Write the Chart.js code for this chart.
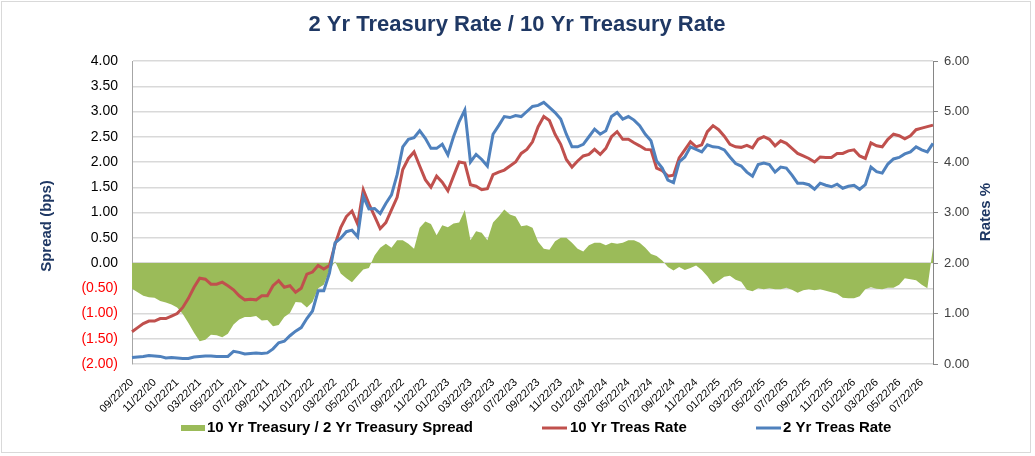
<!DOCTYPE html>
<html><head><meta charset="utf-8">
<script src="https://cdn.jsdelivr.net/npm/chart.js@4.4.1/dist/chart.umd.min.js"></script>
<style>html,body{margin:0;padding:0;background:#fff;}</style>
</head><body>
<canvas id="c" width="1035" height="456"></canvas>
<script>
const chartTitle = '2 Yr Treasury Rate / 10 Yr Treasury Rate';
const leftAxisTitle = 'Spread (bps)';
const rightAxisTitle = 'Rates %';
const seriesNames = ['10 Yr Treasury / 2 Yr Treasury Spread', '10 Yr Treas Rate', '2 Yr Treas Rate'];

const dates = [
'09/22/20','10/07/20','10/22/20','11/07/20','11/22/20','12/07/20','12/22/20','01/07/21',
'01/22/21','02/07/21','02/22/21','03/07/21','03/22/21','04/07/21','04/22/21','05/07/21',
'05/22/21','06/07/21','06/22/21','07/07/21','07/22/21','08/07/21','08/22/21','09/07/21',
'09/22/21','10/07/21','10/22/21','11/07/21','11/22/21','12/07/21','12/22/21','01/07/22',
'01/22/22','02/07/22','02/22/22','03/07/22','03/22/22','04/07/22','04/22/22','05/07/22',
'05/22/22','06/07/22','06/22/22','07/07/22','07/22/22','08/07/22','08/22/22','09/07/22',
'09/22/22','10/07/22','10/22/22','11/07/22','11/22/22','12/07/22','12/22/22','01/07/23',
'01/22/23','02/07/23','02/22/23','03/07/23','03/22/23','04/07/23','04/22/23','05/07/23',
'05/22/23','06/07/23','06/22/23','07/07/23','07/22/23','08/07/23','08/22/23','09/07/23',
'09/22/23','10/07/23','10/22/23','11/07/23','11/22/23','12/07/23','12/22/23','01/07/24',
'01/22/24','02/07/24','02/22/24','03/07/24','03/22/24','04/07/24','04/22/24','05/07/24',
'05/22/24','06/07/24','06/22/24','07/07/24','07/22/24','08/07/24','08/22/24','09/07/24',
'09/22/24','10/07/24','10/22/24','11/07/24','11/22/24','12/07/24','12/22/24','01/07/25',
'01/22/25','02/07/25','02/22/25','03/07/25','03/22/25','04/07/25','04/22/25','05/07/25',
'05/22/25','06/07/25','06/22/25','07/07/25','07/22/25','08/07/25','08/22/25','09/07/25',
'09/22/25','10/07/25','10/22/25','11/07/25','11/22/25','12/07/25','12/22/25','01/07/26',
'01/22/26','02/07/26','02/22/26','03/07/26','03/22/26','04/07/26','04/22/26','05/07/26',
'05/22/26','06/07/26','06/22/26','07/07/26','07/22/26','08/07/26','08/22/26'
];

const tickLabels = [
'09/22/20','11/22/20','01/22/21','03/22/21','05/22/21','07/22/21','09/22/21','11/22/21',
'01/22/22','03/22/22','05/22/22','07/22/22','09/22/22','11/22/22','01/22/23','03/22/23',
'05/22/23','07/22/23','09/22/23','11/22/23','01/22/24','03/22/24','05/22/24','07/22/24',
'09/22/24','11/22/24','01/22/25','03/22/25','05/22/25','07/22/25','09/22/25','11/22/25',
'01/22/26','03/22/26','05/22/26','07/22/26'
];

const spread = [
-0.51,-0.58,-0.65,-0.68,-0.69,-0.75,-0.78,-0.82,-0.88,-1.01,
-1.19,-1.38,-1.55,-1.52,-1.42,-1.43,-1.47,-1.40,-1.22,-1.12,
-1.07,-1.07,-1.05,-1.14,-1.13,-1.25,-1.23,-1.07,-0.99,-0.77,
-0.78,-0.88,-0.77,-0.50,-0.43,-0.15,0.03,-0.21,-0.30,-0.38,
-0.25,-0.13,-0.10,0.15,0.30,0.38,0.30,0.45,0.45,0.38,
0.28,0.70,0.82,0.77,0.55,0.75,0.71,0.78,0.80,1.05,
0.45,0.63,0.60,0.45,0.80,0.92,1.06,0.96,0.92,0.73,
0.75,0.70,0.42,0.28,0.26,0.43,0.50,0.50,0.40,0.28,
0.23,0.35,0.40,0.40,0.35,0.40,0.38,0.40,0.45,0.45,
0.40,0.30,0.18,0.14,0.05,-0.08,-0.15,-0.08,-0.14,-0.10,
-0.05,-0.14,-0.26,-0.42,-0.35,-0.27,-0.25,-0.33,-0.37,-0.53,
-0.56,-0.50,-0.52,-0.50,-0.52,-0.52,-0.49,-0.53,-0.59,-0.54,
-0.52,-0.54,-0.52,-0.55,-0.58,-0.61,-0.69,-0.70,-0.70,-0.66,
-0.52,-0.48,-0.51,-0.52,-0.49,-0.49,-0.43,-0.30,-0.32,-0.34,
-0.43,-0.50,0.30
];

const tenYear = [
0.64,0.72,0.80,0.85,0.85,0.90,0.90,0.95,1.00,1.12,
1.30,1.52,1.70,1.68,1.58,1.58,1.62,1.55,1.47,1.35,
1.27,1.28,1.27,1.35,1.35,1.55,1.65,1.52,1.55,1.42,
1.50,1.78,1.82,1.95,1.88,1.95,2.37,2.70,2.92,3.03,
2.77,3.45,3.17,2.93,2.68,2.80,3.05,3.30,3.85,4.07,
4.20,3.92,3.65,3.50,3.72,3.60,3.43,3.72,4.00,3.98,
3.55,3.52,3.45,3.47,3.75,3.80,3.84,3.92,4.00,4.17,
4.25,4.40,4.70,4.90,4.82,4.55,4.35,4.05,3.90,4.02,
4.12,4.15,4.25,4.15,4.27,4.50,4.60,4.45,4.45,4.38,
4.32,4.25,4.24,3.88,3.83,3.72,3.74,4.08,4.24,4.40,
4.30,4.34,4.60,4.72,4.64,4.51,4.35,4.30,4.29,4.33,
4.28,4.45,4.50,4.45,4.32,4.42,4.37,4.27,4.17,4.12,
4.07,4.00,4.10,4.09,4.09,4.17,4.17,4.22,4.24,4.12,
4.07,4.38,4.32,4.30,4.45,4.55,4.52,4.46,4.52,4.64,
4.67,4.70,4.73
];

const twoYear = [
0.13,0.14,0.15,0.17,0.16,0.15,0.12,0.13,0.12,0.11,
0.11,0.14,0.15,0.16,0.16,0.15,0.15,0.15,0.25,0.23,
0.20,0.21,0.22,0.21,0.22,0.30,0.42,0.45,0.56,0.65,
0.72,0.90,1.05,1.45,1.45,1.80,2.40,2.49,2.62,2.65,
2.52,3.32,3.07,3.08,2.98,3.18,3.35,3.75,4.30,4.45,
4.48,4.62,4.47,4.27,4.27,4.35,4.14,4.50,4.80,5.03,
4.00,4.15,4.05,3.92,4.55,4.72,4.90,4.88,4.92,4.90,
5.00,5.10,5.12,5.18,5.08,4.98,4.85,4.55,4.30,4.30,
4.35,4.50,4.65,4.55,4.62,4.90,4.98,4.85,4.90,4.83,
4.72,4.55,4.42,4.02,3.88,3.64,3.59,4.00,4.10,4.30,
4.25,4.20,4.34,4.30,4.29,4.24,4.10,3.97,3.92,3.80,
3.72,3.95,3.98,3.95,3.80,3.90,3.88,3.74,3.58,3.58,
3.55,3.46,3.58,3.54,3.51,3.56,3.48,3.52,3.54,3.46,
3.55,3.90,3.81,3.78,3.96,4.06,4.09,4.16,4.20,4.30,
4.24,4.20,4.37
];

const GREEN = '#9bbb59', RED = '#c0504d', BLUE = '#4f81bd', NAVY = '#1f3864';
const FONT = '"Liberation Sans", Arial, sans-serif';

const decor = {
  id: 'decor',
  afterDraw(chart) {
    const ctx = chart.ctx;
    ctx.save();
    // outer border
    ctx.strokeStyle = '#d9d9d9';
    ctx.lineWidth = 1;
    ctx.strokeRect(1.5, 1.5, 1029, 451);
    // title
    ctx.fillStyle = NAVY;
    ctx.font = 'bold 22px ' + FONT;
    ctx.textAlign = 'center';
    ctx.textBaseline = 'alphabetic';
    ctx.fillText(chartTitle, 517, 31);
    // axis titles
    ctx.textBaseline = 'middle';
    ctx.font = 'bold 15px ' + FONT;
    ctx.save();
    ctx.translate(47, 226);
    ctx.rotate(-Math.PI / 2);
    ctx.fillText(leftAxisTitle, 0, 0);
    ctx.restore();
    ctx.save();
    ctx.translate(986, 212);
    ctx.rotate(-Math.PI / 2);
    ctx.fillText(rightAxisTitle, 0, 0);
    ctx.restore();
    // legend
    const ly = 428;
    ctx.font = 'bold 15px ' + FONT;
    ctx.textAlign = 'left';
    ctx.fillStyle = GREEN;
    ctx.fillRect(181, ly - 3, 24, 6);
    ctx.fillStyle = '#000';
    ctx.fillText(chart.data.datasets[0].label, 207, ly);
    ctx.strokeStyle = RED; ctx.lineWidth = 3;
    ctx.beginPath(); ctx.moveTo(542, ly); ctx.lineTo(567, ly); ctx.stroke();
    ctx.fillText(chart.data.datasets[1].label, 570, ly);
    ctx.strokeStyle = BLUE;
    ctx.beginPath(); ctx.moveTo(756, ly); ctx.lineTo(781, ly); ctx.stroke();
    ctx.fillText(chart.data.datasets[2].label, 783, ly);
    ctx.restore();
  }
};

new Chart(document.getElementById('c'), {
  type: 'line',
  data: {
    labels: dates,
    datasets: [
      { label: seriesNames[0], data: spread, yAxisID: 'y', fill: 'origin',
        backgroundColor: GREEN, borderColor: GREEN, borderWidth: 0, pointRadius: 0, order: 3, tension: 0 },
      { label: seriesNames[1], data: tenYear, yAxisID: 'y2', fill: false,
        borderColor: RED, borderWidth: 3, pointRadius: 0, order: 2, tension: 0 },
      { label: seriesNames[2], data: twoYear, yAxisID: 'y2', fill: false,
        borderColor: BLUE, borderWidth: 3, pointRadius: 0, order: 1, tension: 0 }
    ]
  },
  options: {
    responsive: false,
    animation: false,
    devicePixelRatio: 1,
    layout: { padding: { top: 61, left: 0, right: 0, bottom: 0 } },
    plugins: { legend: { display: false }, title: { display: false }, tooltip: { enabled: false } },
    scales: {
      x: {
        type: 'category',
        offset: false,
        grid: { display: false },
        border: { display: false },
        ticks: {
          autoSkip: false, maxRotation: 45, minRotation: 45, padding: 4,
          font: { family: FONT, size: 11 }, color: '#000',
          callback: function(v, i) { const l = dates[i]; return tickLabels.includes(l) ? l : null; }
        },
        afterFit(s) { s.height = 92; }
      },
      y: {
        position: 'left', min: -2, max: 4,
        grid: { color: '#d9d9d9', lineWidth: 1.5, drawTicks: false },
        border: { display: true, color: '#a6a6a6', width: 1 },
        ticks: {
          stepSize: 0.5, padding: 14,
          font: { family: FONT, size: 14 },
          color: (c) => c.tick && c.tick.value < 0 ? '#ff0000' : '#000',
          callback: (v) => v < 0 ? '(' + Math.abs(v).toFixed(2) + ')' : v.toFixed(2)
        },
        afterFit(s) { s.width = 132; }
      },
      y2: {
        position: 'right', min: 0, max: 6,
        grid: { drawOnChartArea: false, drawTicks: true, tickLength: 5, color: '#868686' },
        border: { display: true, color: '#868686', width: 1 },
        ticks: {
          stepSize: 1, padding: 6,
          font: { family: FONT, size: 13 }, color: '#404040',
          callback: (v) => v.toFixed(2)
        },
        afterFit(s) { s.width = 102; }
      }
    }
  },
  plugins: [decor]
});
</script>
</body></html>
